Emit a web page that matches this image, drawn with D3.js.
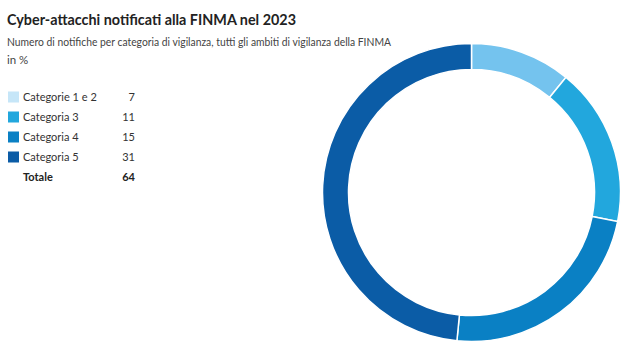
<!DOCTYPE html>
<html><head><meta charset="utf-8">
<script src="https://cdn.jsdelivr.net/npm/d3@7"></script>
<style>body{margin:0;background:#fff}svg{display:block}</style>
</head><body>
<svg id="c" width="640" height="357"></svg>
<script>
const categories = ["Categorie 1 e 2", "Categoria 3", "Categoria 4", "Categoria 5"];
const values = [7, 11, 15, 31];
const sliceColors = ["#74c3ee", "#22a7dd", "#0a80c4", "#0b5ca6"];
const swatchColors = ["#c6e6f8", "#22a7dd", "#0a80c4", "#0b5ca6"];
const totalLabel = "Totale";
const title = "Cyber-attacchi notificati alla FINMA nel 2023";
const subtitle = "Numero di notifiche per categoria di vigilanza, tutti gli ambiti di vigilanza della FINMA";
const unit = "in %";

const svg = d3.select("#c");
const font = "Lato, 'Open Sans', sans-serif";

svg.append("text").attr("x", 7).attr("y", 25).attr("font-family", font)
  .attr("font-size", 15).attr("font-weight", 700).attr("fill", "#222")
  .attr("textLength", 289).attr("lengthAdjust", "spacingAndGlyphs").text(title);
svg.append("text").attr("x", 7).attr("y", 46).attr("font-family", font)
  .attr("font-size", 11.5).attr("fill", "#444")
  .attr("textLength", 384).attr("lengthAdjust", "spacingAndGlyphs").text(subtitle);
svg.append("text").attr("x", 7).attr("y", 64).attr("font-family", font)
  .attr("font-size", 11.5).attr("fill", "#444").text(unit);

// legend
const rowY = d3.scalePoint().domain(d3.range(categories.length + 1)).range([97, 177]);
const lg = svg.append("g");
categories.forEach((c, i) => {
  const y = rowY(i);
  lg.append("rect").attr("x", 8).attr("y", y - 5.5).attr("width", 11).attr("height", 11).attr("fill", swatchColors[i]);
  lg.append("text").attr("x", 23).attr("y", y + 4).attr("font-family", font).attr("font-size", 11)
    .attr("fill", "#333").text(c);
  lg.append("text").attr("x", 135).attr("y", y + 4).attr("text-anchor", "end").attr("font-family", font)
    .attr("font-size", 11).attr("fill", "#333").text(values[i]);
});
const ty = rowY(categories.length);
lg.append("text").attr("x", 23).attr("y", ty + 4).attr("font-family", font).attr("font-size", 11)
  .attr("font-weight", 700).attr("fill", "#222").text(totalLabel);
lg.append("text").attr("x", 135).attr("y", ty + 4).attr("text-anchor", "end").attr("font-family", font)
  .attr("font-size", 11).attr("font-weight", 700).attr("fill", "#222").text(d3.sum(values));

// donut
const pie = d3.pie().sort(null).value(d => d)(values);
const arc = d3.arc().innerRadius(123).outerRadius(149);
const g = svg.append("g").attr("transform", "translate(471.5,192.5)");
g.selectAll("path").data(pie).join("path")
  .attr("d", arc).attr("fill", (d, i) => sliceColors[i])
  .attr("stroke", "#fff").attr("stroke-width", 1.5);
</script>
</body></html>
